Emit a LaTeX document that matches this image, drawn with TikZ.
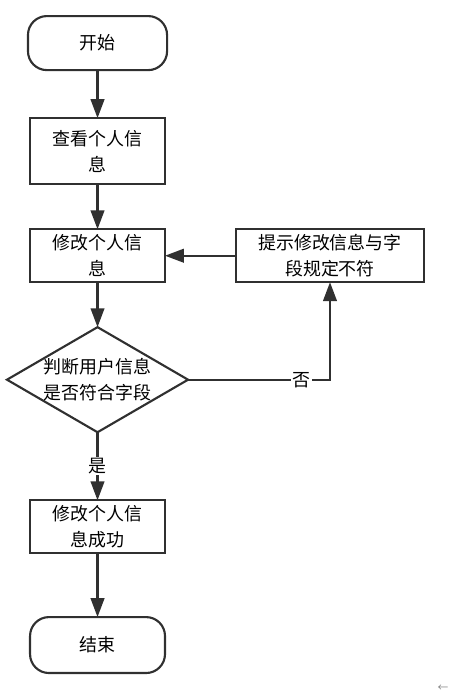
\documentclass[tikz,border=0pt]{standalone}
\usepackage{fontspec}
\setmainfont{Noto Sans CJK SC}
\usetikzlibrary{positioning, arrows.meta, shapes.geometric}
\definecolor{linegray}{HTML}{303030}

\begin{document}
\begin{tikzpicture}[
    node distance=1.2cm,
    box/.style={draw=linegray, line width=1.6pt, outer sep=0pt, minimum height=1.4cm, minimum width=3.57cm, inner sep=2pt, font=\fontsize{13.5}{19.5}\selectfont, align=center},
    term/.style={box, rounded corners=0.5cm},
    cond/.style={box, diamond, aspect=1.72, inner sep=-6pt, minimum width=4.79cm, minimum height=2.78cm},
    arr/.style={-{Triangle[length=0.5cm, width=0.36cm]}, draw=linegray, line width=1.6pt},
    tag/.style={fill=white, inner sep=1pt, font=\fontsize{13.5}{16}\selectfont},
]
\useasboundingbox (0,0) rectangle (11.88,-18.36);
\node[term, minimum width=3.68cm, minimum height=1.43cm] (start) at (2.58,-1.14) {开始};
\node[box, minimum height=1.75cm, below=1.27cm of start] (look) {查看个人信\\息};
\node[box, below=1.19cm of look] (modify) {修改个人信\\息};
\node[box, minimum width=4.97cm, right=1.88cm of modify] (tip) {提示修改信息与字\\段规定不符};
\node[cond, below=1.19cm of modify] (judge) {判断用户信息\\是否符合字段};
\node[box, below=1.8cm of judge] (success) {修改个人信\\息成功};
\node[term, minimum height=1.48cm, below=1.69cm of success] (finish) {结束};
\node[font=\fontsize{8}{8}\selectfont, text=gray] (mark) at (11.72,-18.2) {←};

\draw[arr] (start) -- (look);
\draw[arr] (look) -- (modify);
\draw[arr] (modify) -- (judge);
\draw[arr] (judge.east) -| node[tag, pos=0.4] {否} (tip.south);
\draw[arr] (tip) -- (modify);
\draw[arr] (judge) -- node[tag] {是} (success);
\draw[arr] (success) -- (finish);
\end{tikzpicture}
\end{document}
